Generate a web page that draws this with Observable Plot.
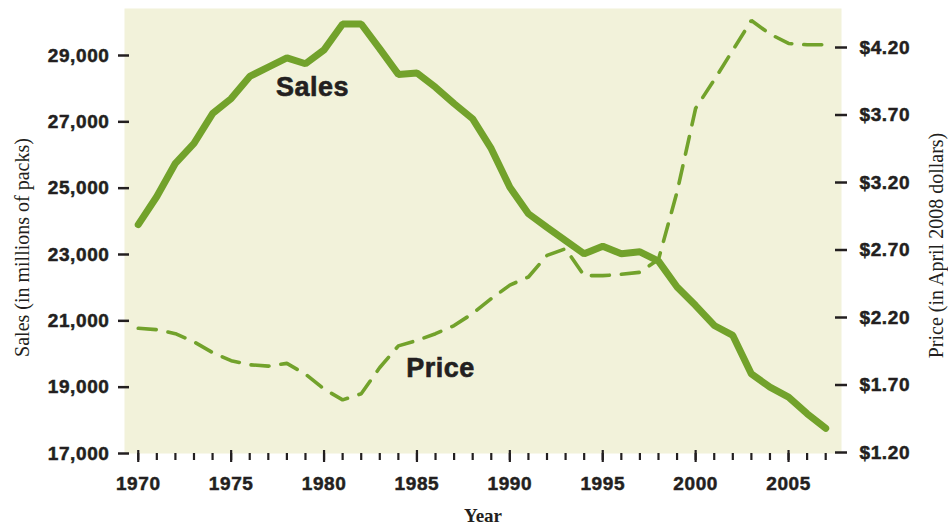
<!DOCTYPE html>
<html>
<head>
<meta charset="utf-8">
<script src="https://cdn.jsdelivr.net/npm/d3@7"></script>
<script src="https://cdn.jsdelivr.net/npm/@observablehq/plot@0.6"></script>
<style>
  html, body { margin: 0; padding: 0; background: #ffffff; }
  svg { display: block; }
  g[aria-label="x-axis tick label"] text,
  g[aria-label="y-axis tick label"] text { letter-spacing: 0.6px; stroke: #231f20; stroke-width: 0.5px; }
  g.series-label text { stroke: #231f20; stroke-width: 0.6px; letter-spacing: 0.5px; }
</style>
</head>
<body>
<div id="chart"></div>
<script>
// ---- Data ----
const years = [1970, 1971, 1972, 1973, 1974, 1975, 1976, 1977, 1978, 1979,
               1980, 1981, 1982, 1983, 1984, 1985, 1986, 1987, 1988, 1989,
               1990, 1991, 1992, 1993, 1994, 1995, 1996, 1997, 1998, 1999,
               2000, 2001, 2002, 2003, 2004, 2005, 2006, 2007];
// Cigarette sales, millions of packs
const sales = [23900, 24750, 25750, 26350, 27250, 27700, 28370, 28650, 28930, 28750,
               29170, 29950, 29950, 29200, 28430, 28470, 28040, 27550, 27090, 26190,
               25030, 24230, 23820, 23420, 23020, 23250, 23020, 23080, 22800, 22020,
               21460, 20860, 20560, 19400, 19000, 18700, 18200, 17760];
// Price per pack, April 2008 dollars
const price = [2.12, 2.11, 2.08, 2.02, 1.94, 1.88, 1.85, 1.84, 1.86, 1.78,
               1.67, 1.59, 1.635, 1.83, 1.99, 2.03, 2.08, 2.14, 2.23, 2.34,
               2.44, 2.50, 2.66, 2.71, 2.51, 2.51, 2.52, 2.535, 2.63, 3.13,
               3.75, 3.96, 4.18, 4.40, 4.30, 4.23, 4.22, 4.22];
const salesTicks = [17000, 19000, 21000, 23000, 25000, 27000, 29000];
const priceTicks = [1.20, 1.70, 2.20, 2.70, 3.20, 3.70, 4.20];
const majorYears = [1970, 1975, 1980, 1985, 1990, 1995, 2000, 2005];
const salesTitle = "Sales (in millions of packs)";
const priceTitle = "Price (in April 2008 dollars)";
const xTitle = "Year";
const seriesLabels = ["Sales", "Price"];

// ---- Build table ----
const table = years.map((y, i) => ({year: y, sales: sales[i], price: price[i]}));

// price axis mapped onto the sales scale (dual axis)
const P0 = 1.2, S0 = 17030, K = 4070.3;
const toS = p => S0 + (p - P0) * K;
const fromS = s => P0 + (s - S0) / K;

const green = "#72a22b";
const bg = "#f2f2da";
const ink = "#231f20";
const sans = "'Liberation Sans', Arial, Helvetica, sans-serif";
const serif = "'Liberation Serif', 'Times New Roman', serif";

const chart = Plot.plot({
  width: 948,
  height: 526,
  marginLeft: 124,
  marginRight: 107,
  marginTop: 8,
  marginBottom: 73,
  style: {background: "#ffffff", overflow: "visible"},
  x: {domain: [1969.26, 2007.85], axis: null},
  y: {domain: [17000, 30417], axis: null},
  marks: [
    Plot.frame({fill: bg, stroke: null}),
    // left axis
    Plot.axisY(salesTicks, {
      anchor: "left", tickSize: 11, dx: 5, tickPadding: 9,
      tickFormat: d3.format(","), fontSize: 19, fontWeight: "bold",
      fontFamily: sans, color: ink, strokeWidth: 2.5, label: null
    }),
    // right axis (price)
    Plot.axisY(priceTicks.map(toS), {
      anchor: "right", tickSize: 12, dx: -7, tickPadding: 13,
      tickFormat: s => "$" + fromS(s).toFixed(2), fontSize: 19, fontWeight: "bold",
      fontFamily: sans, color: ink, strokeWidth: 2.5, label: null
    }),
    // minor year ticks
    Plot.axisX(years, {
      anchor: "bottom", tickSize: 7, tickFormat: () => "", color: ink,
      strokeWidth: 2.2, label: null
    }),
    // major year ticks with labels
    Plot.axisX(majorYears, {
      anchor: "bottom", tickSize: 12, dy: -3, tickPadding: 14,
      tickFormat: d => String(d), fontSize: 19, fontWeight: "bold",
      fontFamily: sans, color: ink, strokeWidth: 2.2, label: null
    }),
    // price (dashed)
    Plot.line(table, {
      x: "year", y: d => toS(d.price), stroke: green, strokeWidth: 3.6,
      strokeDasharray: "18,12", strokeLinejoin: "miter"
    }),
    // sales (solid)
    Plot.line(table, {
      x: "year", y: "sales", stroke: green, strokeWidth: 7, strokeLinejoin: "miter"
    }),
    // series labels
    Plot.text([seriesLabels[0]], {
      x: 1979.38, y: 28035, text: d => d, fontSize: 27, fontWeight: "bold",
      fontFamily: sans, fill: ink, className: "series-label"
    }),
    Plot.text([seriesLabels[1]], {
      x: 1986.27, y: toS(1.826), text: d => d, fontSize: 27, fontWeight: "bold",
      fontFamily: sans, fill: ink, className: "series-label"
    }),
    // axis titles
    Plot.text([salesTitle], {
      frameAnchor: "left", dx: -102, dy: 16.5, rotate: -90, text: d => d,
      textAnchor: "middle", lineAnchor: "middle", fontSize: 20, fontFamily: serif, fill: ink
    }),
    Plot.text([priceTitle], {
      frameAnchor: "right", dx: 95, dy: 14.5, rotate: -90, text: d => d,
      textAnchor: "middle", lineAnchor: "middle", fontSize: 20, fontFamily: serif, fill: ink
    }),
    Plot.text([xTitle], {
      frameAnchor: "bottom", dy: 55, text: d => d, textAnchor: "middle", lineAnchor: "top",
      fontSize: 19, fontWeight: "bold", fontFamily: serif, fill: ink
    })
  ]
});
document.getElementById("chart").appendChild(chart);
</script>
</body>
</html>
